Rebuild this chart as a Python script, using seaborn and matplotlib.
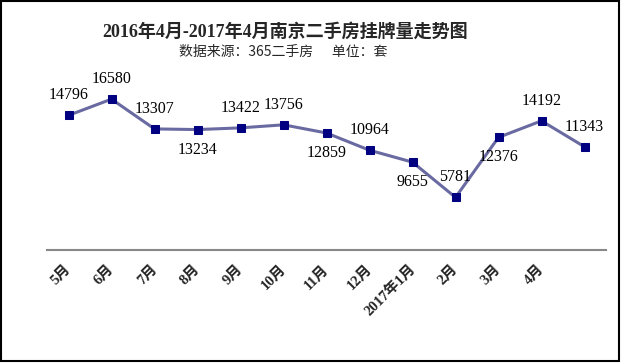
import numpy as np
import pandas as pd
import matplotlib
matplotlib.use("Agg")
import matplotlib.pyplot as plt
import matplotlib.transforms as mtransforms
import seaborn as sns
from matplotlib.patches import Rectangle

# data
months = ["5月", "6月", "7月", "8月", "9月", "10月", "11月", "12月",
          "2017年1月", "2月", "3月", "4月", ""]
listings = [14796, 16580, 13307, 13234, 13422, 13756, 12859, 10964,
            9655, 5781, 12376, 14192, 11343]
label_below = [3, 6, 8, 10]

df = pd.DataFrame({"pos": np.arange(len(listings)), "listings": listings})

sns.set_theme(style="white")
plt.rcParams["font.family"] = ["Liberation Serif", "Noto Sans CJK SC", "DejaVu Sans"]

fig = plt.figure(figsize=(6.21, 3.63), dpi=100)
ax = fig.add_axes([47 / 621, 113 / 363, 559 / 621, 182 / 363])

sns.lineplot(data=df, x="pos", y="listings", ax=ax, color="#6a6aa2",
             linewidth=2.2, marker="s", markersize=6,
             markerfacecolor="#000080", markeredgecolor="#000080")

for i, v in enumerate(listings):
    dy = -14.4 if i in label_below else 14.4
    ax.annotate(str(v), (i, v), xytext=(0, dy), textcoords="offset points",
                ha="center", va="center", fontsize=11.5, color="black",
                family=["Liberation Serif"])

ax.set_xlim(-0.5, len(listings) - 0.5)
ax.set_ylim(0, 20000)
ax.set_xticks(df["pos"])
ax.set_xticklabels(months, rotation=45, ha="right", rotation_mode="anchor",
                   fontsize=10.5, fontweight="bold",
                   family=["Liberation Serif", "Noto Sans CJK SC"])
ax.tick_params(axis="x", length=0, pad=9)
shift = mtransforms.ScaledTranslation(-3 / 72, 0, fig.dpi_scale_trans)
for lab in ax.get_xticklabels():
    lab.set_transform(lab.get_transform() + shift)
ax.set_yticks([])
ax.set_xlabel("")
ax.set_ylabel("")
for s in ["top", "left", "right"]:
    ax.spines[s].set_visible(False)
ax.spines["bottom"].set_color("#888888")
ax.spines["bottom"].set_linewidth(1.5)

fig.text(285 / 621, 1 - 32 / 363, "2016年4月-2017年4月南京二手房挂牌量走势图",
         ha="center", va="center", fontsize=13, fontweight="bold",
         family=["Liberation Serif", "Noto Sans CJK SC"])
fig.text(283 / 621, 1 - 52 / 363, "数据来源：365二手房      单位：套",
         ha="center", va="center", fontsize=10,
         family=["Noto Sans CJK SC", "DejaVu Sans"])

fig.patches.append(Rectangle((1 / 621, 2 / 363), 618 / 621, 360 / 363,
                             transform=fig.transFigure, fill=False,
                             edgecolor="black", linewidth=1.5))

fig.savefig("out.png", dpi=100)
